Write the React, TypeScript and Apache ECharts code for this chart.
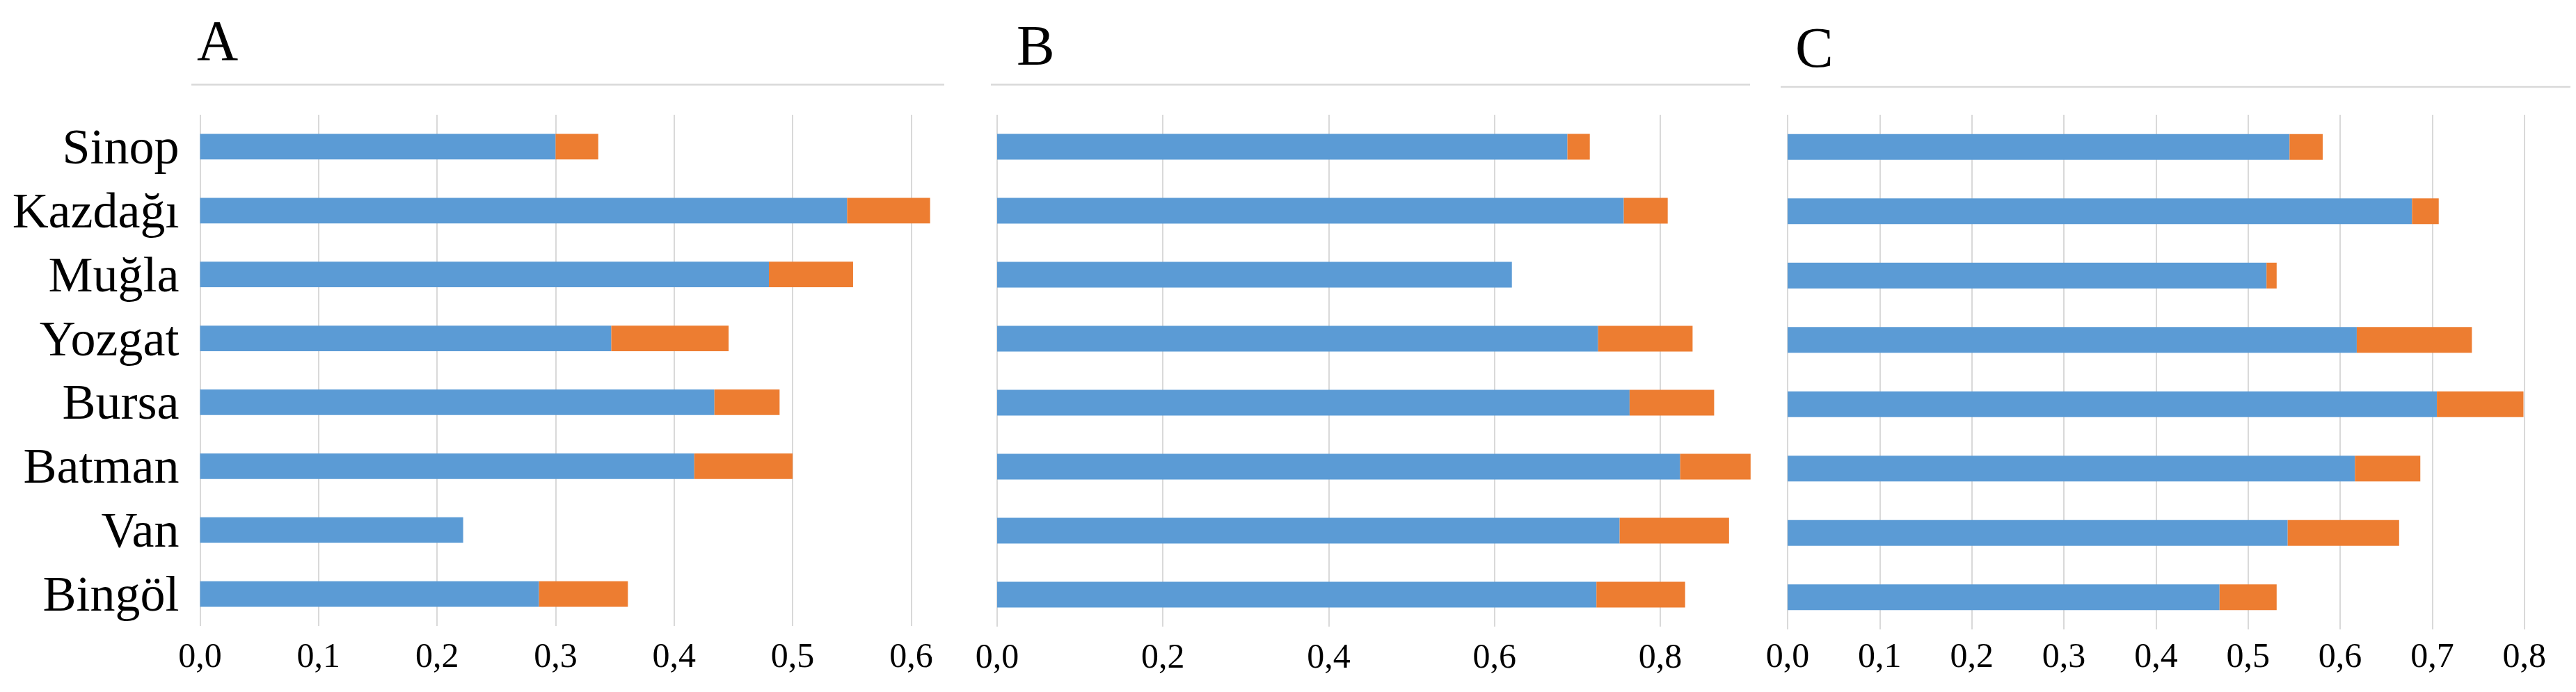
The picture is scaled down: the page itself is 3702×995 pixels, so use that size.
import React, { useEffect, useRef } from "react";
import * as echarts from "echarts";

const categories = ["Sinop", "Kazdağı", "Muğla", "Yozgat", "Bursa", "Batman", "Van", "Bingöl"];

const blueA = [0.300, 0.546, 0.480, 0.347, 0.434, 0.417, 0.222, 0.286];
const orangeA = [0.036, 0.070, 0.071, 0.099, 0.055, 0.083, 0, 0.075];

const blueB = [0.688, 0.756, 0.621, 0.725, 0.763, 0.824, 0.751, 0.723];
const orangeB = [0.027, 0.053, 0, 0.114, 0.102, 0.085, 0.132, 0.107];

const blueC = [0.545, 0.678, 0.520, 0.618, 0.705, 0.616, 0.543, 0.469];
const orangeC = [0.036, 0.029, 0.011, 0.125, 0.094, 0.071, 0.121, 0.062];

const panelTitles = ["A", "B", "C"];
const tickIntervals = [0.1, 0.2, 0.1];
const axisMax = [0.63, 0.91, 0.85];

const BLUE = "#5B9BD5";
const ORANGE = "#ED7D31";
const GRID = "#D9D9D9";
const FONT = "'Liberation Serif', 'Times New Roman', serif";

const grids = [
  { left: 287.5, top: 165, width: 1073, height: 735 },
  { left: 1433, top: 165, width: 1084, height: 736 },
  { left: 2569, top: 165, width: 1125, height: 740 },
];
const titlePos = [
  { left: 283, top: 17 },
  { left: 1461, top: 24 },
  { left: 2580, top: 27 },
];
const dividers = [
  { x1: 275, x2: 1357, y: 121.7 },
  { x1: 1424, x2: 2515, y: 121.7 },
  { x1: 2559, x2: 3694, y: 125 },
];
const xLabelMargin = [17, 17, 12];

export default function App() {
  const ref = useRef<HTMLDivElement>(null);
  useEffect(() => {
    if (!ref.current) return;
    const chart = echarts.init(ref.current, null, { renderer: "svg" });
    const blues = [blueA, blueB, blueC];
    const oranges = [orangeA, orangeB, orangeC];

    const option: any = {
      animation: false,
      backgroundColor: "#ffffff",
      title: panelTitles.map((t, i) => ({
        text: t,
        left: titlePos[i].left,
        top: titlePos[i].top,
        padding: 0,
        textStyle: { fontFamily: FONT, fontSize: 82, fontWeight: "normal", color: "#000" },
      })),
      graphic: dividers.map((d) => ({
        type: "line",
        shape: { x1: d.x1, y1: d.y, x2: d.x2, y2: d.y },
        style: { stroke: GRID, lineWidth: 2.5 },
        silent: true,
      })),
      grid: grids.map((g) => ({ ...g, containLabel: false })),
      xAxis: grids.map((_, i) => ({
        type: "value",
        gridIndex: i,
        min: 0,
        max: axisMax[i],
        interval: tickIntervals[i],
        axisLine: { show: false },
        axisTick: { show: false },
        splitLine: { show: true, showMaxLine: false, lineStyle: { color: GRID, width: 2 } },
        axisLabel: {
          showMaxLabel: false,
          margin: xLabelMargin[i],
          fontFamily: FONT,
          fontSize: 50,
          color: "#000",
          formatter: (v: number) => {
            const r = Math.round(v / tickIntervals[i]) * tickIntervals[i];
            if (Math.abs(r - v) > 1e-6) return "";
            return v.toFixed(1).replace(".", ",");
          },
        },
      })),
      yAxis: grids.map((_, i) => ({
        type: "category",
        gridIndex: i,
        data: categories,
        inverse: true,
        axisLine: { show: false },
        axisTick: { show: false },
        splitLine: { show: false },
        axisLabel: {
          show: i === 0,
          interval: 0,
          margin: 30,
          fontFamily: FONT,
          fontSize: 72,
          color: "#000",
          padding: [0, 0, 20, 0],
        },
      })),
      series: grids.flatMap((_, i) => [
        {
          type: "bar",
          name: "blue" + i,
          xAxisIndex: i,
          yAxisIndex: i,
          stack: "s" + i,
          barWidth: "40%",
          data: blues[i],
          itemStyle: { color: BLUE },
        },
        {
          type: "bar",
          name: "orange" + i,
          xAxisIndex: i,
          yAxisIndex: i,
          stack: "s" + i,
          barWidth: "40%",
          data: oranges[i],
          itemStyle: { color: ORANGE },
        },
      ]),
    };
    chart.setOption(option);
    return () => chart.dispose();
  }, []);
  return (
    <div
      ref={ref}
      style={{ position: "fixed", left: 0, top: 0, width: 3702, height: 995, background: "#fff" }}
    />
  );
}
